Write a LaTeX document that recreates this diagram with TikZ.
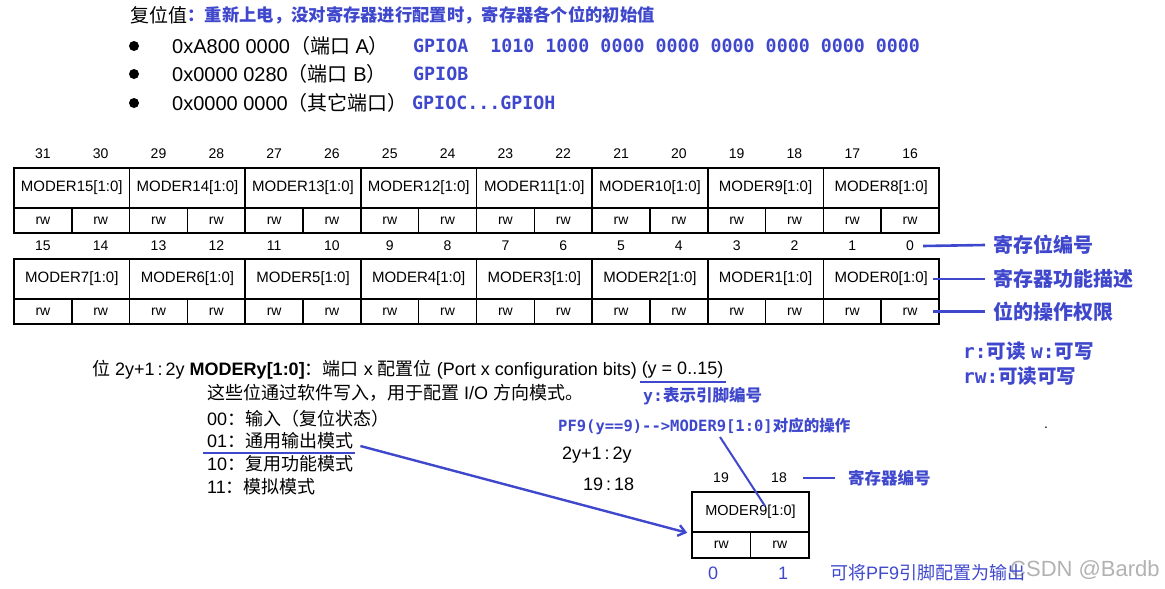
\documentclass[tikz,border=0pt]{standalone}
\usepackage{fontspec}
\setmainfont{Liberation Sans}
\newfontfamily\cjk{Noto Sans CJK SC}
\newfontfamily\mono{DejaVu Sans Mono}
\usetikzlibrary{arrows.meta}
\definecolor{pblue}{RGB}{63,72,204}
\newcommand\fs[1]{\fontsize{#1}{#1}\selectfont}
\newcommand\BM[1]{{\mono\bfseries #1}}
\newcommand\BC[1]{{\cjk\bfseries #1}}
\newcommand\CC[1]{{\cjk #1}}
\begin{document}
\begin{tikzpicture}[x=1pt,y=-1pt,
  txt/.style={anchor=west,inner sep=0pt},
  btxt/.style={txt,text=pblue},
  cellbox/.style={draw,line width=1.6pt,inner sep=0pt},
  modcell/.style={cellbox,minimum width=115.625pt,minimum height=40pt,font=\fs{15}},
  rwcell/.style={cellbox,minimum width=57.8125pt,minimum height=25pt,font=\fs{14}},
  bitnum/.style={inner sep=0pt,font=\fs{14}},
  bline/.style={draw=pblue,line width=2.6pt},
  bullet/.style={circle,fill=black,inner sep=0pt,minimum size=10pt}
]
\useasboundingbox (0,0) rectangle (1165,589);
% ---------- header ----------
\node[txt,font=\fs{19}] (h0) at (130,15) {\CC{复位值}};
\node[btxt,font=\fs{17.3}] (h1) at (h0.east) {\BC{：重新上电，没对寄存器进行配置时，寄存器各个位的初始值}};
\node[bullet] (d1) at (134,46) {};
\node[bullet] (d2) at (134,74) {};
\node[bullet] (d3) at (134,103) {};
\node[txt,font=\fs{20}] (t1) at (172,46) {0xA800 0000\CC{（端口} A\CC{）}};
\node[txt,font=\fs{20}] (t2) at (172,74) {0x0000 0280\CC{（端口} B\CC{）}};
\node[txt,font=\fs{20}] (t3) at (172,103) {0x0000 0000\CC{（其它端口）}};
\node[btxt,font=\fs{18.3}] (g1) at (413,46) {\BM{GPIOA\ \ 1010 1000 0000 0000 0000 0000 0000 0000}};
\node[btxt,font=\fs{18.3}] (g2) at (413,74) {\BM{GPIOB}};
\node[btxt,font=\fs{18.3}] (g3) at (412,103) {\BM{GPIOC...GPIOH}};
% ---------- register tables ----------
\foreach \i in {0,...,7}{
  \pgfmathtruncatemacro\na{15-\i}
  \pgfmathtruncatemacro\nb{7-\i}
  \node[modcell] (ma\na) at ({14+(2*\i+1)*57.8125},188) {MODER\na[1:0]};
  \node[modcell] (mb\nb) at ({14+(2*\i+1)*57.8125},279) {MODER\nb[1:0]};
}
\foreach \j in {0,...,15}{
  \pgfmathtruncatemacro\ka{31-\j}
  \pgfmathtruncatemacro\kb{15-\j}
  \node[rwcell] (ra\ka) at ({14+(\j+0.5)*57.8125},220.5) {rw};
  \node[rwcell] (rb\kb) at ({14+(\j+0.5)*57.8125},311.5) {rw};
  \node[bitnum] (na\ka) at ({14+(\j+0.5)*57.8125},154) {\ka};
  \node[bitnum] (nb\kb) at ({14+(\j+0.5)*57.8125},246) {\kb};
}
% ---------- labels on the right ----------
\node[btxt,font=\fs{20}] (l1) at (993,245) {\BC{寄存位编号}};
\node[btxt,font=\fs{20}] (l2) at (993,279) {\BC{寄存器功能描述}};
\node[btxt,font=\fs{20}] (l3) at (993,311.5) {\BC{位的操作权限}};
\draw[bline] ([xshift=9pt]nb0.east) -- ([xshift=-8pt]l1.west);
\draw[bline] ([xshift=-7pt]mb0.east) -- ([xshift=-8pt]l2.west);
\draw[bline] ([xshift=-7pt]rb0.east) -- ([xshift=-8pt]l3.west);
\node[btxt,font=\fs{19.5}] (rw1) at (963,351) {\BM{r:}\BC{可读} \BM{w:}\BC{可写}};
\node[btxt,font=\fs{19.5}] (rw2) at (963,376) {\BM{rw:}\BC{可读可写}};
% ---------- description ----------
\node[txt,font=\fs{18}] (p1) at (92,370) {\CC{位} 2y+1\,:\,2y \textbf{MODERy[1:0]}\CC{：端口} x \CC{配置位} (Port x configuration bits)};
\node[txt,font=\fs{18}] (p2) at ([xshift=4.5pt]p1.east) {(y = 0..15)};
\draw[bline,line width=2pt] ([xshift=-2pt,yshift=-3pt]p2.south west) -- ([xshift=3pt,yshift=-3pt]p2.south east);
\node[btxt,font=\fs{16.5}] (yl) at (643,396) {\BM{y:}\BC{表示引脚编号}};
\node[txt,font=\fs{18}] (o0) at (207,393) {\CC{这些位通过软件写入，用于配置} I/O \CC{方向模式。}};
\node[txt,font=\fs{18}] (o00) at (207,419) {00\CC{：输入（复位状态）}};
\node[txt,font=\fs{18}] (o01) at (207,441) {01\CC{：通用输出模式}};
\node[txt,font=\fs{18}] (o10) at (207,464) {10\CC{：复用功能模式}};
\node[txt,font=\fs{18}] (o11) at (207,487) {11\CC{：模拟模式}};
\draw[bline,line width=2pt] ([xshift=-4pt,yshift=-12pt]o01.west) -- ([xshift=2pt,yshift=-12pt]o01.east);
\node[btxt,font=\fs{15.5}] (pf) at (558,426) {\BM{PF9(y==9)-->MODER9[1:0]}\BC{对应的操作}};
\node[txt,font=\fs{14}] (dot) at (1044,428) {.};
\node[txt,font=\fs{18}] (e1) at (562,455) {2y+1\,:\,2y};
\node[txt,font=\fs{18}] (e2) at (583,484) {19\,:\,18};
% ---------- single register ----------
\node[bitnum,font=\fs{14}] (s19) at (721,478) {19};
\node[bitnum,font=\fs{14}] (s18) at (779,478) {18};
\node[cellbox,minimum width=117pt,minimum height=40pt,font=\fs{14.5}] (sm9) at (750.5,512) {MODER9[1:0]};
\node[cellbox,minimum width=58.5pt,minimum height=26pt,font=\fs{14}] (sr1) at (721.25,545) {rw};
\node[cellbox,minimum width=58.5pt,minimum height=26pt,font=\fs{14}] (sr0) at (779.75,545) {rw};
\node[btxt,font=\fs{16.5}] (rl) at (848,478) {\BC{寄存器编号}};
\draw[bline] ([xshift=16pt]s18.east) -- ([xshift=-13pt]rl.west);
\node[inner sep=0pt,text=pblue,font=\fs{18}] (v0) at (713,573) {0};
\node[inner sep=0pt,text=pblue,font=\fs{18}] (v1) at (783,573) {1};
\node[txt,text=black!30,font=\fs{22}] (wm) at (1010,570) {CSDN @Bardb};
\node[btxt,font=\fs{18}] (out) at (830,573) {\CC{可将}PF9\CC{引脚配置为输出}};
% ---------- connectors ----------
\coordinate (pfa) at (720,437);
\coordinate (pfb) at (765,506);
\draw[bline,line width=2pt] (pfa) -- (pfb);
\draw[bline,line width=2.4pt,-{Straight Barb[length=7pt,width=11pt]}] ([xshift=7pt,yshift=-5pt]o01.east) -- ([xshift=-4pt]sm9.south west);
\end{tikzpicture}
\end{document}
